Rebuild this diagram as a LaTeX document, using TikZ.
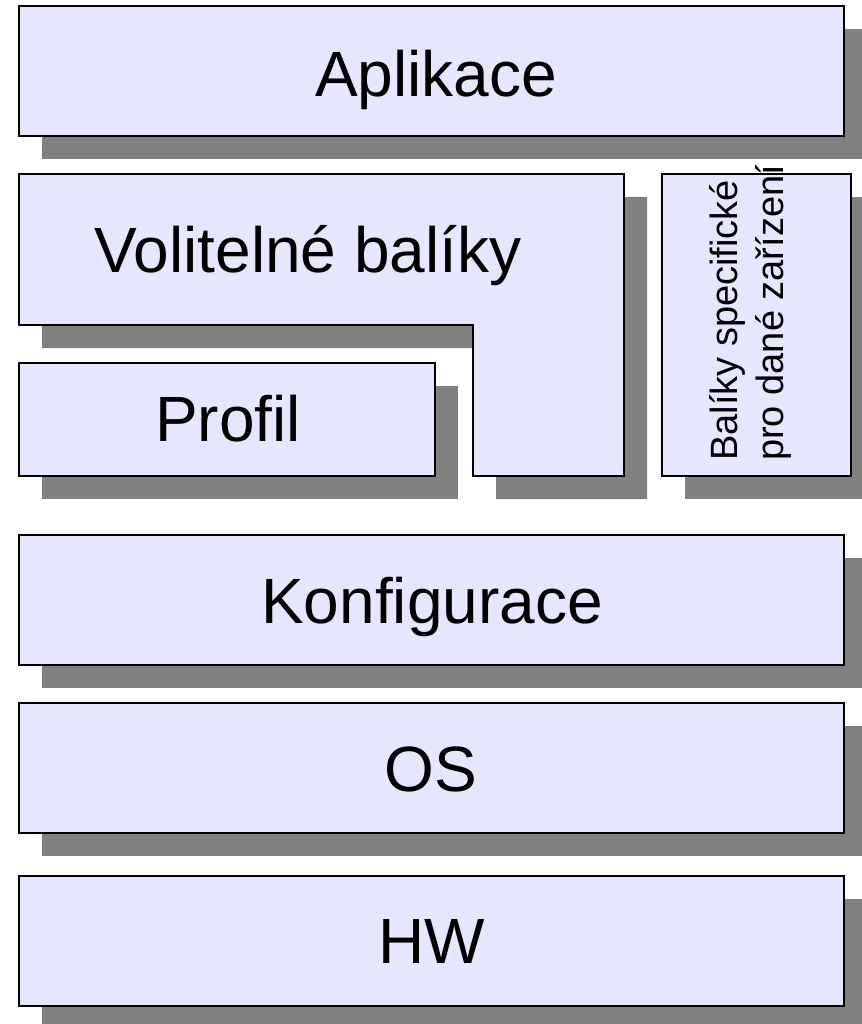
\documentclass[tikz,border=0pt]{standalone}
\usepackage{fontspec}
\setmainfont{Liberation Sans}
\definecolor{layerfill}{HTML}{E6E6FF}
\definecolor{layershadow}{HTML}{808080}
\tikzset{
  layer/.style={draw=black, line width=1.3pt, fill=layerfill},
  dropshade/.style={fill=layershadow, draw=none},
  bigtext/.style={font=\fontsize{64}{74}\selectfont, inner sep=0pt, anchor=base},
  sidetext/.style={font=\fontsize{38}{46}\selectfont, inner sep=0pt, align=left,
                   rotate=90, anchor=north west},
}
\begin{document}
\begin{tikzpicture}[x=1pt,y=-1pt]
\useasboundingbox (0,0) rectangle (861,1024);

% drop shadows, offset 23 right and down
\foreach \xa/\ya/\xb/\yb in {19/6/844/136, 19/363/435/476, 662/174/851/476,
                             19/535/844/665, 19/703/844/833, 19/876/844/1006}
  \fill[dropshade] (\xa+23,\ya+23) rectangle (\xb+23,\yb+23);
\fill[dropshade] (42,197) -- (647,197) -- (647,499) -- (496,499) -- (496,348) -- (42,348) -- cycle;

% layers
\draw[layer] (19,6) rectangle (844,136);
\draw[layer] (19,174) -- (624,174) -- (624,476) -- (473,476) -- (473,325) -- (19,325) -- cycle;
\draw[layer] (19,363) rectangle (435,476);
\draw[layer] (662,174) rectangle (851,476);
\draw[layer] (19,535) rectangle (844,665);
\draw[layer] (19,703) rectangle (844,833);
\draw[layer] (19,876) rectangle (844,1006);

% labels
\node[bigtext] (app)  at (436,97)  {Aplikace};
\node[bigtext] (opt)  at (308,272) {Volitelné balíky};
\node[bigtext] (prof) at (228,441) {Profil};
\node[sidetext] (dev) at (709,461) {Balíky specifické\\pro dané zařízení};
\node[bigtext] (conf) at (432,623) {Konfigurace};
\node[bigtext] (os)   at (431,791) {OS};
\node[bigtext] (hw)   at (432,963) {HW};
\end{tikzpicture}
\end{document}
